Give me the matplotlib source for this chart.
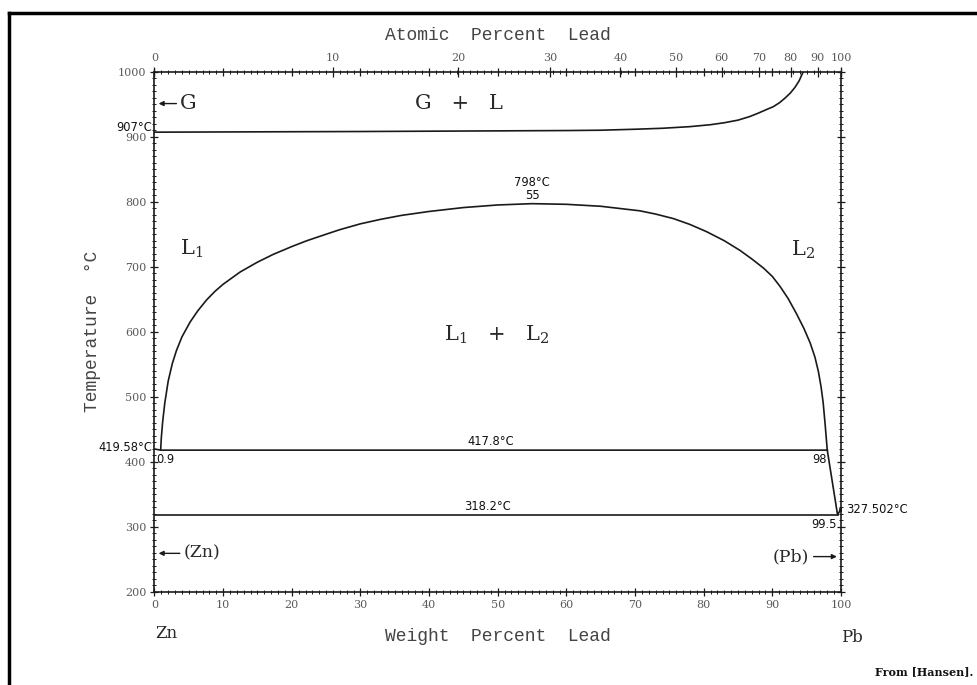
import numpy as np
import matplotlib
matplotlib.use("Agg")
import matplotlib.pyplot as plt
from matplotlib.ticker import MultipleLocator, FixedLocator

plt.rcParams["mathtext.fontset"] = "dejavuserif"

# masy atomowe do przeliczenia % wag. <-> % at.
M_PB = 207.2
M_ZN = 65.38

# granica gazu (G / G + L), % wag. Pb i temperatura
gas_wt = [0, 30, 50, 60, 65, 70, 74, 78, 81, 83, 85, 86.7, 88, 89.3, 90.1,
          91, 91.8, 92.6, 93.3, 93.9, 94.5]
gas_t = [907, 908, 909, 909.5, 910, 911.5, 913, 915.5, 918.5, 921.5, 925.5, 931,
         936.5, 942.5, 946, 952, 959, 967, 976, 986, 1000]

# kopula luki mieszalnosci L1 + L2
dome_wt = [0.9, 1.0, 1.2, 1.5, 2.0, 2.6, 3.2, 4.0, 5.2, 6.3, 7.6, 8.8, 10.0, 12.5,
           15, 17.3, 20, 22.2, 25, 27, 30, 33, 36, 40, 45, 50, 55, 60, 65, 70.7,
           73, 75.6, 78, 80.4, 83, 85.3, 87, 88.7, 90, 91.1, 92.3, 93.5, 94.6,
           95.5, 96.2, 96.7, 97.1, 97.4, 97.7, 98.0]
dome_t = [417.8, 437, 462, 490, 524, 551, 571, 592, 615, 632, 649, 662, 673, 692,
          707, 719, 731, 740, 750, 757, 766, 773, 779, 785, 791, 795, 797, 796, 793,
          786, 781, 774, 765, 754, 740, 725, 712, 698, 685, 670, 651, 628, 605,
          583, 561, 539, 515, 491, 456, 417.8]

# likwidus Pb ponizej monotektyki
pb_liq_wt = [98.0, 99.5, 100]
pb_liq_t = [417.8, 318.2, 327.502]

# linie poziome: monotektyka i eutektyka
mono_wt = [0, 0.9, 98.0]
mono_t = [419.58, 417.8, 417.8]
eut_wt = [0, 99.5]
eut_t = [318.2, 318.2]

at_ticks = [0, 10, 20, 30, 40, 50, 60, 70, 80, 90, 100]


def wt_to_at(w):
    w = np.asarray(w, dtype=float)
    with np.errstate(divide="ignore", invalid="ignore"):
        a = (w / M_PB) / (w / M_PB + (100 - w) / M_ZN) * 100
    return a


def at_to_wt(a):
    a = np.asarray(a, dtype=float)
    with np.errstate(divide="ignore", invalid="ignore"):
        w = a * M_PB / (a * M_PB + (100 - a) * M_ZN) * 100
    return w


fig = plt.figure(figsize=(9.77, 6.85), dpi=100)
ax = fig.add_axes([0.1581, 0.1362, 0.7027, 0.7591])

lc = "#1a1a1a"
lw = 1.2
ax.plot(gas_wt, gas_t, color=lc, lw=lw)
ax.plot(dome_wt, dome_t, color=lc, lw=lw)
ax.plot(pb_liq_wt, pb_liq_t, color=lc, lw=lw)
ax.plot(mono_wt, mono_t, color=lc, lw=lw)
ax.plot(eut_wt, eut_t, color=lc, lw=lw)
ax.plot([100], [327.502], marker="o", ms=2.5, color=lc)

ax.set_xlim(0, 100)
ax.set_ylim(200, 1000)

for s in ax.spines.values():
    s.set_linewidth(1.2)
    s.set_color(lc)

tick_font = dict(family="DejaVu Serif", size=8, color="#5a5a5a")
ax.xaxis.set_major_locator(MultipleLocator(10))
ax.xaxis.set_minor_locator(MultipleLocator(1))
ax.yaxis.set_major_locator(MultipleLocator(100))
ax.yaxis.set_minor_locator(MultipleLocator(10))
ax.tick_params(which="both", top=True, right=True, direction="inout", color=lc)
ax.tick_params(which="major", length=6, width=0.9, pad=3)
ax.tick_params(which="minor", length=3, width=0.7)
ax.tick_params(labeltop=False, labelright=False)
for lab in ax.get_xticklabels() + ax.get_yticklabels():
    lab.set_fontfamily(tick_font["family"])
    lab.set_fontsize(tick_font["size"])
    lab.set_color(tick_font["color"])

# gorna os: procent atomowy
sec = ax.secondary_xaxis("top", functions=(wt_to_at, at_to_wt))
sec.xaxis.set_major_locator(FixedLocator(at_ticks))
sec.tick_params(which="major", direction="inout", length=7, width=0.9, pad=3, color=lc)
sec.tick_params(which="minor", length=0)
sec.spines["top"].set_visible(False)
for lab in sec.get_xticklabels():
    lab.set_fontfamily(tick_font["family"])
    lab.set_fontsize(tick_font["size"])
    lab.set_color(tick_font["color"])

mono = dict(family="Liberation Mono", size=13, color="#444444")
sec.set_xlabel("Atomic  Percent  Lead", labelpad=9, **mono)
ax.set_xlabel("Weight  Percent  Lead", labelpad=13, **mono)
ax.set_ylabel("Temperature  \u00b0C", labelpad=12, **mono)

serif = dict(family="DejaVu Serif", color="#2a2a2a")
small = dict(family="DejaVu Sans", size=8.3, color="#111111")
arrow = dict(arrowstyle="-|>", color=lc, lw=1.0, mutation_scale=7)

# obszary faz
ax.text(3.7, 951, "G", fontsize=15, va="center", ha="left", **serif)
ax.annotate("", xy=(0.2, 951), xytext=(3.6, 951), arrowprops=arrow)
ax.text(44.3, 951, "G   +   L", fontsize=15, va="center", ha="center", **serif)
ax.text(3.7, 728, r"L$_1$", fontsize=15, va="center", ha="left", **serif)
ax.text(94.5, 726, r"L$_2$", fontsize=15, va="center", ha="center", **serif)
ax.text(49.8, 595, r"L$_1$   +   L$_2$", fontsize=15, va="center", ha="center", **serif)

ax.text(4.3, 259, "(Zn)", fontsize=12.5, va="center", ha="left", **serif)
ax.annotate("", xy=(0.2, 259), xytext=(4.1, 259), arrowprops=arrow)
ax.text(95.3, 254, "(Pb)", fontsize=12.5, va="center", ha="right", **serif)
ax.annotate("", xy=(99.8, 254), xytext=(95.6, 254), arrowprops=arrow)

# temperatury i sklady punktow
ax.text(-0.3, 914, "907\u00b0C", ha="right", va="center", **small)
ax.text(55, 829, "798\u00b0C", ha="center", va="center", **small)
ax.text(55, 809, "55", ha="center", va="center", **small)
ax.text(-0.3, 422, "419.58\u00b0C", ha="right", va="center", **small)
ax.text(0.3, 403, "0.9", ha="left", va="center", **small)
ax.text(49, 420.5, "417.8\u00b0C", ha="center", va="bottom", **small)
ax.text(97.9, 404, "98", ha="right", va="center", **small)
ax.text(48.5, 320.5, "318.2\u00b0C", ha="center", va="bottom", **small)
ax.text(99.4, 304, "99.5", ha="right", va="center", **small)
ax.text(100.8, 326, "327.502\u00b0C", ha="left", va="center", **small)

# nazwy skladnikow
fig.text(166 / 977, 1 - 633 / 685, "Zn", fontsize=12, ha="center", va="center", **serif)
fig.text(852 / 977, 1 - 637 / 685, "Pb", fontsize=12, ha="center", va="center", **serif)
fig.text(973 / 977, 1 - 672 / 685, "From [Hansen].", fontsize=8, ha="right",
         va="center", fontweight="bold", family="DejaVu Serif", color="#111111")

# ramka ryciny (gora i lewa krawedz)
fig.add_artist(plt.Line2D([9 / 977, 1.0], [1 - 13 / 685, 1 - 13 / 685],
                          color="black", lw=2.5, transform=fig.transFigure))
fig.add_artist(plt.Line2D([9 / 977, 9 / 977], [1 - 13 / 685, 0.0],
                          color="black", lw=2.5, transform=fig.transFigure))

fig.savefig("out.png", dpi=100, facecolor="white")
